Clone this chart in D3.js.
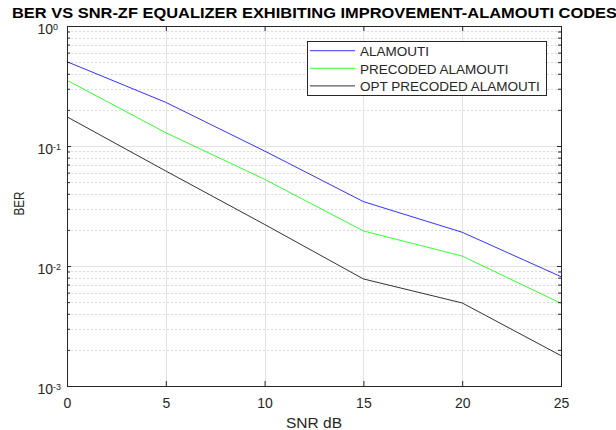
<!DOCTYPE html>
<html><head><meta charset="utf-8">
<script src="https://cdn.jsdelivr.net/npm/d3@7"></script>
<style>body{margin:0;background:#fff}svg{display:block;font-family:"Liberation Sans",Arial,sans-serif}</style>
</head><body>
<script>
const snr = [0, 5, 10, 15, 20, 25];
const alamouti = [0.504, 0.231, 0.0908, 0.0344, 0.0191, 0.00815];
const precoded = [0.353, 0.129, 0.0528, 0.0196, 0.0121, 0.00489];
const optPrecoded = [0.175, 0.0619, 0.0222, 0.0078, 0.00492, 0.00179];
const xTicks = [0, 5, 10, 15, 20, 25];
const yTickExps = [0, -1, -2, -3];
const seriesNames = ["ALAMOUTI", "PRECODED ALAMOUTI", "OPT PRECODED ALAMOUTI"];
const seriesColors = ["#0000ff", "#00ff00", "#000000"];
const title = "BER VS SNR-ZF EQUALIZER EXHIBITING IMPROVEMENT-ALAMOUTI CODES";

const W = 616, H = 430;
const m = {left: 67, right: 561, top: 26, bottom: 386};
const svg = d3.select("body").append("svg").attr("width", W).attr("height", H);
const x = d3.scaleLinear().domain([0, 25]).range([m.left, m.right]);
const y = d3.scaleLog().domain([1e-3, 1]).range([m.bottom, m.top]);

// minor grid (dotted)
const minors = [];
for (let e = -3; e < 0; e++) for (let k = 2; k <= 9; k++) minors.push(k * Math.pow(10, e));
svg.append("g").selectAll("line").data(minors).join("line")
  .attr("x1", m.left).attr("x2", m.right)
  .attr("y1", d => Math.round(y(d)) + 0.5).attr("y2", d => Math.round(y(d)) + 0.5)
  .attr("stroke", "#dcdcdc").attr("stroke-dasharray", "2,2").attr("stroke-width", 1);
// major grid
svg.append("g").selectAll("line").data(yTickExps.map(e => Math.pow(10, e))).join("line")
  .attr("x1", m.left).attr("x2", m.right)
  .attr("y1", d => Math.round(y(d)) + 0.5).attr("y2", d => Math.round(y(d)) + 0.5)
  .attr("stroke", "#e3e3e3").attr("stroke-width", 1);
svg.append("g").selectAll("line").data(xTicks).join("line")
  .attr("y1", m.top).attr("y2", m.bottom)
  .attr("x1", d => Math.round(x(d)) + 0.5).attr("x2", d => Math.round(x(d)) + 0.5)
  .attr("stroke", "#e3e3e3").attr("stroke-width", 1);

// lines
const line = d3.line().x((d, i) => x(snr[i])).y(d => y(d));
[alamouti, precoded, optPrecoded].forEach((s, i) => {
  svg.append("path").datum(s).attr("d", line).attr("fill", "none")
    .attr("stroke", seriesColors[i]).attr("stroke-width", 1)
    .attr("stroke-opacity", 0.8);
});

// axes (ticks inside)
const axCol = "#262626";
const xB = svg.append("g").attr("transform", `translate(0,${m.bottom})`)
  .call(d3.axisBottom(x).tickValues(xTicks).tickSize(-5).tickPadding(0).tickFormat(d3.format("d")));
xB.selectAll("text").attr("dy", null).attr("y", 22);
const xT = svg.append("g").attr("transform", `translate(0,${m.top})`)
  .call(d3.axisTop(x).tickValues(xTicks).tickSize(-5).tickFormat(""));
const allY = minors.concat(yTickExps.map(e => Math.pow(10, e)));
const yL = svg.append("g").attr("transform", `translate(${m.left},0)`)
  .call(d3.axisLeft(y).tickValues(allY).tickSize(-4).tickFormat(""));
const yR = svg.append("g").attr("transform", `translate(${m.right},0)`)
  .call(d3.axisRight(y).tickValues(allY).tickSize(-4).tickFormat(""));
[xB, xT, yL, yR].forEach(g => {
  g.select(".domain").attr("stroke", axCol);
  g.selectAll(".tick line").attr("stroke", axCol);
  g.selectAll("text").attr("fill", axCol).attr("font-size", 14).attr("font-family", "Liberation Sans, Arial, sans-serif");
});
[yL, yR].forEach(g => g.selectAll(".tick line").filter(d => yTickExps.every(e => Math.abs(Math.log10(d) - e) > 1e-9)).attr("x2", g === yL ? 3 : -3));
yL.select(".domain").remove(); yR.select(".domain").remove();
svg.append("rect").attr("x", m.left + 0.5).attr("y", m.top + 0.5)
  .attr("width", m.right - m.left).attr("height", m.bottom - m.top)
  .attr("fill", "none").attr("stroke", axCol).attr("stroke-width", 1);

// y tick labels with superscript
const yLab = svg.append("g");
yTickExps.forEach(e => {
  yLab.append("text").attr("x", 53).attr("y", y(Math.pow(10, e)) + 7.5)
    .attr("text-anchor", "end").attr("fill", axCol).attr("font-size", 14).text("10");
  yLab.append("text").attr("x", 53).attr("y", y(Math.pow(10, e)) + 3.5)
    .attr("fill", axCol).attr("font-size", 9).text(e);
});

// axis labels
svg.append("text").attr("x", 314).attr("y", 428).attr("text-anchor", "middle")
  .attr("fill", axCol).attr("font-size", 15.5).text("SNR dB");
svg.append("text").attr("transform", `translate(23.5,${203.5}) rotate(-90)`)
  .attr("text-anchor", "middle").attr("fill", axCol).attr("font-size", 15)
  .attr("textLength", 24).attr("lengthAdjust", "spacingAndGlyphs").text("BER");

// title
svg.append("text").attr("x", 12).attr("y", 17.5)
  .attr("font-weight", "bold").attr("font-size", 15).attr("fill", "#000")
  .attr("textLength", 605).attr("lengthAdjust", "spacingAndGlyphs").text(title);

// legend
const lg = svg.append("g");
lg.append("rect").attr("x", 307.5).attr("y", 41.5).attr("width", 239).attr("height", 54)
  .attr("fill", "#fff").attr("stroke", axCol);
seriesNames.forEach((n, i) => {
  const yy = 50.7 + i * 17.6;
  lg.append("line").attr("x1", 310).attr("x2", 355).attr("y1", yy).attr("y2", yy)
    .attr("stroke", seriesColors[i]).attr("stroke-opacity", 0.8);
  lg.append("text").attr("x", 360).attr("y", yy + 5.3).attr("font-size", 13.5)
    .attr("fill", axCol).text(n);
});
</script>
</body></html>
